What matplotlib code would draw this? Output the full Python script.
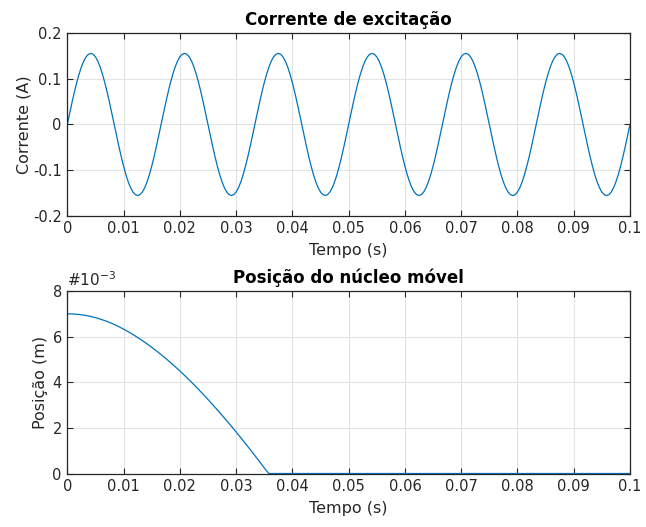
import numpy as np
import matplotlib
matplotlib.use("Agg")
import matplotlib.pyplot as plt

# Corrente de excitação: one period (60 Hz), 40 samples per cycle
meio_ciclo = [0.0, 0.0244, 0.0482, 0.0708, 0.0917, 0.1103, 0.1262, 0.1390, 0.1484, 0.1541,
              0.156, 0.1541, 0.1484, 0.1390, 0.1262, 0.1103, 0.0917, 0.0708, 0.0482, 0.0244]
corrente_ciclo = meio_ciclo + [-v for v in meio_ciclo]
n_ciclos = 6
corrente = corrente_ciclo * n_ciclos + [0.0]
t_corrente = np.linspace(0, 0.1, len(corrente))

# Posição do núcleo (x1e-3 m), sampled every 1 ms until it reaches zero
t_pos = [i * 1e-3 for i in range(36)] + [0.0358, 0.1]
posicao = [7.0, 6.993, 6.973, 6.940, 6.893, 6.833, 6.759, 6.672, 6.571, 6.457,
           6.33, 6.191, 6.042, 5.882, 5.712, 5.533, 5.344, 5.145, 4.938, 4.721,
           4.496, 4.262, 4.020, 3.770, 3.512, 3.246, 2.973, 2.694, 2.409, 2.118,
           1.821, 1.518, 1.209, 0.894, 0.573, 0.246, 0.0, 0.0]

x_ticks = [0, 0.01, 0.02, 0.03, 0.04, 0.05, 0.06, 0.07, 0.08, 0.09, 0.1]
x_ticklabels = ['0', '0.01', '0.02', '0.03', '0.04', '0.05', '0.06', '0.07', '0.08', '0.09', '0.1']

azul = '#0072BD'
cinza = '#262626'

plt.rcParams['font.family'] = 'DejaVu Sans'

fig = plt.figure(figsize=(6.46, 5.27), dpi=100)
ax1 = fig.add_axes([0.1042, 0.591, 0.871, 0.3457])
ax2 = fig.add_axes([0.1042, 0.1015, 0.871, 0.3463])


def estilo(ax):
    ax.set_xlim(0, 0.1)
    ax.set_xticks(x_ticks)
    ax.set_xticklabels(x_ticklabels)
    ax.grid(True, color='#e3e3e3', linewidth=0.8)
    ax.set_axisbelow(True)
    ax.tick_params(direction='in', length=4, width=0.8, colors=cinza, labelsize=10.5,
                   top=True, right=True, pad=4)
    for s in ax.spines.values():
        s.set_color(cinza)
        s.set_linewidth(0.9)
    ax.set_xlabel('Tempo (s)', fontsize=11.5, color=cinza, labelpad=5)


ax1.plot(t_corrente, corrente, color=azul, linewidth=0.9)
estilo(ax1)
ax1.set_ylim(-0.2, 0.2)
ax1.set_yticks([-0.2, -0.1, 0, 0.1, 0.2])
ax1.set_yticklabels(['-0.2', '-0.1', '0', '0.1', '0.2'])
ax1.set_ylabel('Corrente (A)', fontsize=11.5, color=cinza, labelpad=1)
ax1.set_title('Corrente de excitação', fontsize=12, fontweight='bold', pad=6)

ax2.plot(t_pos, posicao, color=azul, linewidth=0.9)
estilo(ax2)
ax2.set_ylim(0, 8)
ax2.set_yticks([0, 2, 4, 6, 8])
ax2.set_ylabel('Posição (m)', fontsize=11.5, color=cinza, labelpad=3)
ax2.set_title('Posição do núcleo móvel', fontsize=12, fontweight='bold', pad=6)
ax2.text(0.0, 1.012, '#10$^{-3}$', transform=ax2.transAxes, fontsize=11,
         color=cinza, ha='left', va='bottom')

fig.savefig('out.png', dpi=100, facecolor='white')
